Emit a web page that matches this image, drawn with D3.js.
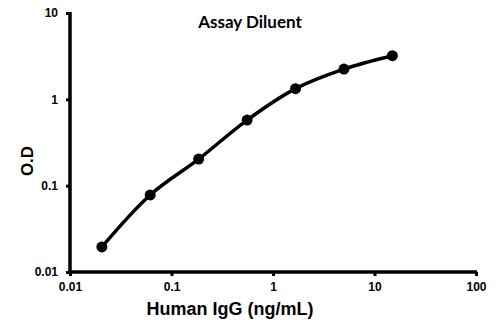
<!DOCTYPE html>
<html>
<head>
<meta charset="utf-8">
<script src="https://cdn.jsdelivr.net/npm/d3@7"></script>
<style>
  html, body { margin: 0; padding: 0; background: #fff; }
  svg { display: block; }
</style>
</head>
<body>
<svg id="chart" width="500" height="322"></svg>
<script>
// Standard curve: Human IgG concentration vs optical density
const concentration = [0.0206, 0.0617, 0.185, 0.556, 1.667, 5, 15];
const od = [0.0195, 0.078, 0.203, 0.575, 1.33, 2.24, 3.2];
const xTicks = [0.01, 0.1, 1, 10, 100];
const yTicks = [0.01, 0.1, 1, 10];
const xTickLabels = ["0.01", "0.1", "1", "10", "100"];
const yTickLabels = ["0.01", "0.1", "1", "10"];

const svg = d3.select("#chart");
const plotLeft = 70, plotRight = 476, plotTop = 13, plotBottom = 272;

const x = d3.scaleLog().domain([0.01, 100]).range([plotLeft, plotRight]);
const y = d3.scaleLog().domain([0.01, 10]).range([plotBottom, plotTop]);

const tickFont = "'Liberation Sans', Arial, sans-serif";

// Axes
const xAxis = d3.axisBottom(x).tickValues(xTicks)
  .tickFormat((d, i) => xTickLabels[i]).tickSizeInner(4).tickSizeOuter(0).tickPadding(6);
const yAxis = d3.axisLeft(y).tickValues(yTicks)
  .tickFormat((d, i) => yTickLabels[i]).tickSizeInner(4).tickSizeOuter(0).tickPadding(8);

const gx = svg.append("g").attr("transform", `translate(0,${plotBottom})`).call(xAxis);
const gy = svg.append("g").attr("transform", `translate(${plotLeft},0)`).call(yAxis);

[gx, gy].forEach(g => {
  g.select(".domain").remove();
  g.selectAll(".tick line").attr("stroke", "#000").attr("stroke-width", 3);
  g.selectAll(".tick text")
    .attr("font-family", tickFont)
    .attr("font-weight", "bold")
    .attr("font-size", 12)
    .attr("fill", "#000");
});

// Thick axis lines along the scale ranges
const [xr0, xr1] = x.range();
const [yr0, yr1] = y.range();
svg.append("line")
  .attr("x1", xr0 - 1.75).attr("x2", xr1 + 1).attr("y1", yr0).attr("y2", yr0)
  .attr("stroke", "#000").attr("stroke-width", 3.5);
svg.append("line")
  .attr("x1", xr0).attr("x2", xr0).attr("y1", yr1 - 1).attr("y2", yr0 + 1.75)
  .attr("stroke", "#000").attr("stroke-width", 3.5);

// Smoothed curve through the points
const pts = concentration.map((c, i) => [x(c), y(od[i])]);
svg.append("path")
  .attr("d", d3.line().curve(d3.curveCatmullRom.alpha(0.5))(pts))
  .attr("fill", "none")
  .attr("stroke", "#000")
  .attr("stroke-width", 3.5);

svg.selectAll("circle.pt")
  .data(concentration)
  .enter().append("circle")
  .attr("class", "pt")
  .attr("cx", d => x(d))
  .attr("cy", (d, i) => y(od[i]))
  .attr("r", 5.5)
  .attr("fill", "#000");

// Title and axis labels
svg.append("text")
  .attr("x", 250).attr("y", 28)
  .attr("text-anchor", "middle")
  .attr("font-family", "Lato, 'Open Sans', sans-serif")
  .attr("font-weight", "bold")
  .attr("font-size", 17)
  .text("Assay Diluent");

svg.append("text")
  .attr("x", 230).attr("y", 315)
  .attr("text-anchor", "middle")
  .attr("font-family", tickFont)
  .attr("font-weight", "bold")
  .attr("font-size", 18)
  .text("Human IgG (ng/mL)");

svg.append("text")
  .attr("transform", "translate(33,161) rotate(-90)")
  .attr("text-anchor", "middle")
  .attr("font-family", tickFont)
  .attr("font-weight", "bold")
  .attr("font-size", 17)
  .text("O.D");
</script>
</body>
</html>
